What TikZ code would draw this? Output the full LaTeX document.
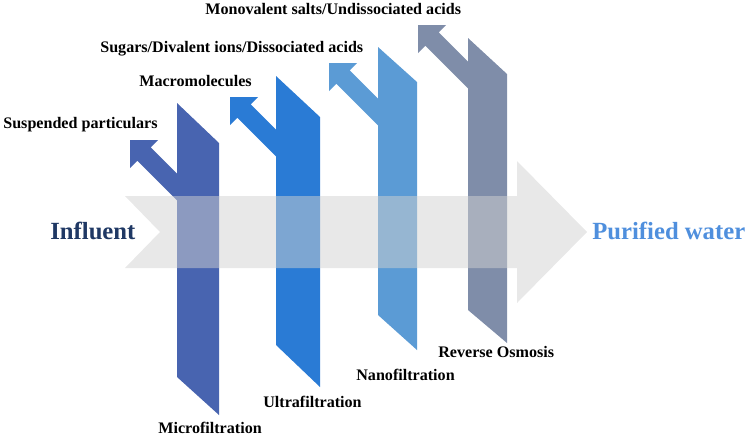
\documentclass[tikz,border=0pt]{standalone}
\usepackage{fontspec}
\setmainfont{Liberation Serif}
\definecolor{mfblue}{HTML}{4864B0}
\definecolor{ufblue}{HTML}{2A7BD5}
\definecolor{nfblue}{HTML}{5B9BD5}
\definecolor{roblue}{HTML}{7F8DA9}
\definecolor{inblue}{HTML}{1F3864}
\definecolor{outblue}{HTML}{4F8FDD}

\begin{document}
\begin{tikzpicture}[x=0.02cm,y=-0.02cm,
    rejected/.style={anchor=base west,inner sep=0pt,font=\fontsize{9.16}{11}\selectfont\bfseries},
    process/.style={anchor=base west,inner sep=0pt,font=\fontsize{9.16}{11}\selectfont\bfseries},
    stream/.style={anchor=base west,inner sep=0pt,font=\fontsize{14.05}{17}\selectfont\bfseries},
    branch/.pic={\fill (0,0) -- (28,0) -- (20.8,7.4) -- (65.8,52.4) -- (52.4,65.8) -- (7.4,20.8) -- (0,28) -- cycle;}]
    \useasboundingbox (0,0) rectangle (751,437);

    \fill[mfblue] (177,103) -- (219,143) -- (219,415) -- (177,377) -- cycle;
    \pic[fill=mfblue] at (130,140) {branch};
    \fill[ufblue] (276,76) -- (320,117) -- (320,387) -- (276,345) -- cycle;
    \pic[fill=ufblue] at (230,97) {branch};
    \fill[nfblue] (378,47) -- (417,82) -- (417,350) -- (378,315) -- cycle;
    \pic[fill=nfblue] at (329,63) {branch};
    \fill[roblue] (468,38) -- (507,74) -- (507,343) -- (468,310) -- cycle;
    \pic[fill=roblue] at (418,25) {branch};

    \fill[black!18,opacity=0.5] (125,196) -- (517,196) -- (517,161) -- (587,232) -- (517,303) -- (517,268) -- (125,268) -- (160,232) -- cycle;

    \node[stream,text=inblue] (influent) at (50,239) {Influent};
    \node[stream,text=outblue] (purified) at (592,239) {Purified water};

    \node[rejected] (susp) at (3,128) {Suspended particulars};
    \node[rejected] (macro) at (139,86) {Macromolecules};
    \node[rejected] (sugar) at (100,52) {Sugars/Divalent ions/Dissociated acids};
    \node[rejected] (mono) at (205,14) {Monovalent salts/Undissociated acids};

    \node[process] (mf) at (158,433) {Microfiltration};
    \node[process] (uf) at (263,407) {Ultrafiltration};
    \node[process] (nf) at (356,380) {Nanofiltration};
    \node[process] (ro) at (438,357) {Reverse Osmosis};
\end{tikzpicture}
\end{document}
